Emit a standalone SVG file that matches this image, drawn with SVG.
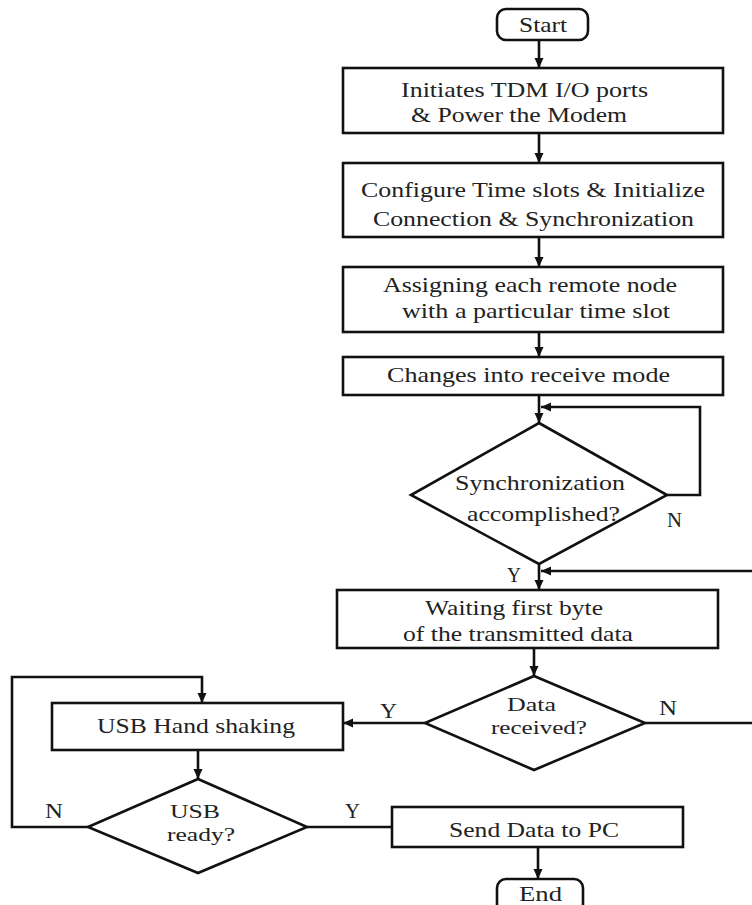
<svg xmlns="http://www.w3.org/2000/svg" width="752" height="905" viewBox="0 0 752 905">
<style>
.s{fill:#fff;stroke:#111;stroke-width:2.6}
.c{fill:none;stroke:#111;stroke-width:2.6}
text{font-family:"Liberation Serif","Times New Roman",serif;font-size:22px;fill:#222}
.sm{font-size:19px}
</style>
<defs>
<marker id="ah" markerWidth="10" markerHeight="10" viewBox="0 0 10 10" refX="10" refY="5" orient="auto" markerUnits="userSpaceOnUse">
<path d="M0,0.5 L10,5 L0,9.5 Z" fill="#111"/>
</marker>
</defs>
<rect width="752" height="905" fill="#fff"/>
<g id="connectors">
<path class="c" d="M539,40 V68" marker-end="url(#ah)"/>
<path class="c" d="M539,133 V163" marker-end="url(#ah)"/>
<path class="c" d="M539,237 V267" marker-end="url(#ah)"/>
<path class="c" d="M539,332 V357" marker-end="url(#ah)"/>
<path class="c" d="M539,395 V423" marker-end="url(#ah)"/>
<path class="c" d="M667,495 H700 V407 H541" marker-end="url(#ah)"/>
<path class="c" d="M539,564 V590" marker-end="url(#ah)"/>
<path class="c" d="M645,723 H755 V571 H541" marker-end="url(#ah)"/>
<path class="c" d="M534,648 V676" marker-end="url(#ah)"/>
<path class="c" d="M425,723 H343" marker-end="url(#ah)"/>
<path class="c" d="M198,750 V779" marker-end="url(#ah)"/>
<path class="c" d="M88,827 H12 V677 H202 V703" marker-end="url(#ah)"/>
<path class="c" d="M307,827 H392"/>
<path class="c" d="M538,847 V879" marker-end="url(#ah)"/>
<text x="667" y="527" textLength="15" lengthAdjust="spacingAndGlyphs">N</text>
<text x="507" y="582" textLength="14" lengthAdjust="spacingAndGlyphs">Y</text>
<text x="659" y="715" textLength="18" lengthAdjust="spacingAndGlyphs">N</text>
<text x="380" y="718" textLength="17" lengthAdjust="spacingAndGlyphs">Y</text>
<text x="45" y="818" textLength="18" lengthAdjust="spacingAndGlyphs">N</text>
<text x="345" y="818" textLength="15" lengthAdjust="spacingAndGlyphs">Y</text>
</g>
<g id="start">
<rect class="s" x="497" y="9" width="91" height="31" rx="9"/>
<text x="519" y="32" textLength="48" lengthAdjust="spacingAndGlyphs">Start</text>
</g>
<g id="init">
<rect class="s" x="343" y="68" width="380" height="65"/>
<text x="401" y="97" textLength="247" lengthAdjust="spacingAndGlyphs">Initiates TDM I/O ports</text>
<text x="411" y="122" textLength="216" lengthAdjust="spacingAndGlyphs">&amp; Power the Modem</text>
</g>
<g id="config">
<rect class="s" x="343" y="163" width="380" height="74"/>
<text x="361" y="197" textLength="344" lengthAdjust="spacingAndGlyphs">Configure Time slots &amp; Initialize</text>
<text x="373" y="226" textLength="321" lengthAdjust="spacingAndGlyphs">Connection &amp; Synchronization</text>
</g>
<g id="assign">
<rect class="s" x="343" y="267" width="380" height="65"/>
<text x="383" y="292" textLength="294" lengthAdjust="spacingAndGlyphs">Assigning each remote node</text>
<text x="402" y="318" textLength="268" lengthAdjust="spacingAndGlyphs">with a particular time slot</text>
</g>
<g id="receive">
<rect class="s" x="343" y="357" width="380" height="38"/>
<text x="387" y="382" textLength="283" lengthAdjust="spacingAndGlyphs">Changes into receive mode</text>
</g>
<g id="sync">
<polygon class="s" points="539,423 667,495 539,564 411,495"/>
<text x="455" y="490" textLength="170" lengthAdjust="spacingAndGlyphs">Synchronization</text>
<text x="467" y="521" textLength="153" lengthAdjust="spacingAndGlyphs">accomplished?</text>
</g>
<g id="waiting">
<rect class="s" x="337" y="590" width="381" height="58"/>
<text x="425" y="615" textLength="178" lengthAdjust="spacingAndGlyphs">Waiting first byte</text>
<text x="403" y="641" textLength="230" lengthAdjust="spacingAndGlyphs">of the transmitted data</text>
</g>
<g id="datareceived">
<polygon class="s" points="534,676 645,723 534,770 425,723"/>
<text class="sm" x="507" y="711" textLength="49" lengthAdjust="spacingAndGlyphs">Data</text>
<text class="sm" x="491" y="734" textLength="96" lengthAdjust="spacingAndGlyphs">received?</text>
</g>
<g id="usbhand">
<rect class="s" x="52" y="703" width="291" height="47"/>
<text x="97" y="733" textLength="198" lengthAdjust="spacingAndGlyphs">USB Hand shaking</text>
</g>
<g id="usbready">
<polygon class="s" points="198,779 307,827 198,873 88,827"/>
<text class="sm" x="170" y="818" textLength="50" lengthAdjust="spacingAndGlyphs">USB</text>
<text class="sm" x="167" y="841" textLength="68" lengthAdjust="spacingAndGlyphs">ready?</text>
</g>
<g id="send">
<rect class="s" x="392" y="807" width="291" height="40"/>
<text x="449" y="837" textLength="170" lengthAdjust="spacingAndGlyphs">Send Data to PC</text>
</g>
<g id="end">
<rect class="s" x="497" y="879" width="86" height="36" rx="9"/>
<text x="519" y="901" textLength="43" lengthAdjust="spacingAndGlyphs">End</text>
</g>
</svg>
